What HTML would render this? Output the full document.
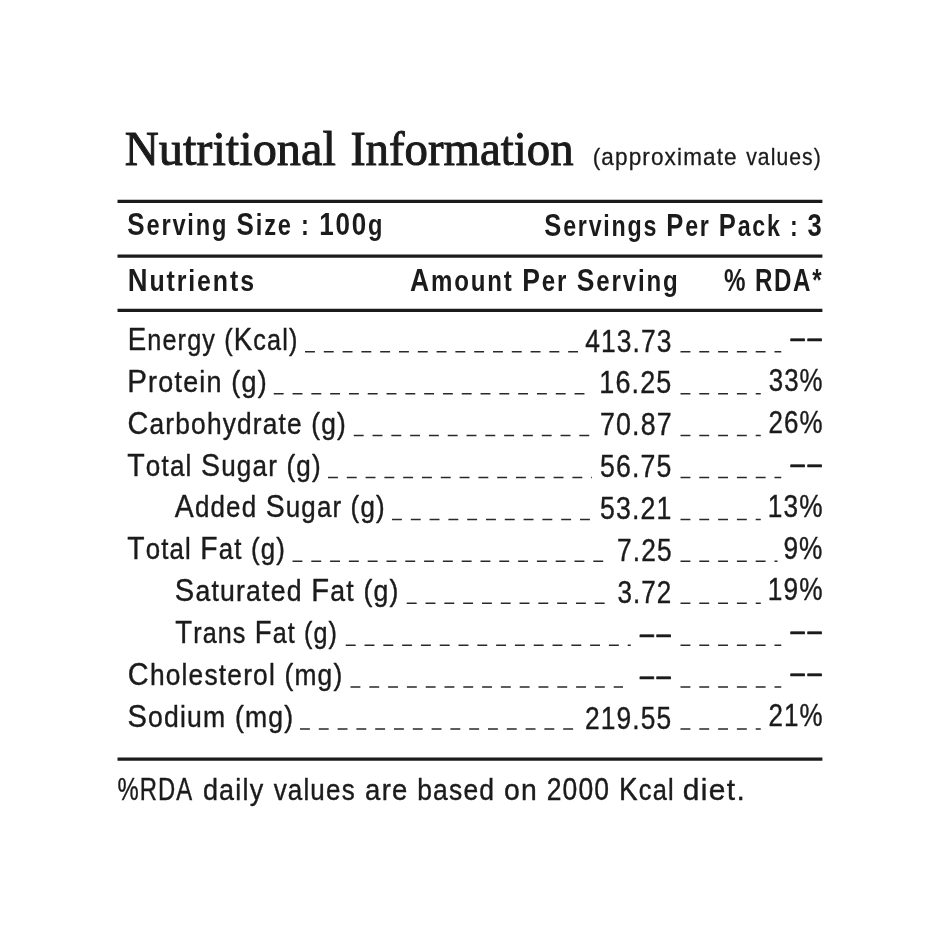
<!DOCTYPE html>
<html lang="en">
<head>
<meta charset="utf-8">
<title>Nutritional Information</title>
<style>
html,body{margin:0;padding:0;background:#fff;}
body{width:940px;height:940px;overflow:hidden;}
svg{display:block;filter:grayscale(1);}
text{fill:#1c1b1a;font-family:"Liberation Sans", sans-serif;font-kerning:normal;white-space:pre;}
text.serif{font-family:"Liberation Serif", serif;}
.rule{stroke:#1c1b1a;stroke-width:3.2;}
.dash{stroke:#2a2928;stroke-width:1.5;stroke-dasharray:9.9 8.9;}
</style>
</head>
<body>
<svg width="940" height="940" viewBox="0 0 940 940">
<rect width="940" height="940" fill="#ffffff"/>
<line class="rule" x1="117.5" x2="822.4" y1="201.3" y2="201.3"/>
<line class="rule" x1="117.5" x2="822.4" y1="256.1" y2="256.1"/>
<line class="rule" x1="117.5" x2="822.4" y1="310.45" y2="310.45"/>
<line class="rule" x1="117.5" x2="822.4" y1="759.2" y2="759.2"/>
<line class="dash" x1="305" x2="578" y1="351.8" y2="351.8"/>
<line class="dash" x1="680.5" x2="781.25" y1="351.8" y2="351.8"/>
<line class="dash" x1="273.75" x2="585" y1="393.71" y2="393.71"/>
<line class="dash" x1="680.5" x2="760.75" y1="393.71" y2="393.71"/>
<line class="dash" x1="353.75" x2="590" y1="435.62" y2="435.62"/>
<line class="dash" x1="680.5" x2="760.75" y1="435.62" y2="435.62"/>
<line class="dash" x1="328" x2="592" y1="477.53" y2="477.53"/>
<line class="dash" x1="680.5" x2="781.25" y1="477.53" y2="477.53"/>
<line class="dash" x1="392" x2="590" y1="519.44" y2="519.44"/>
<line class="dash" x1="680.5" x2="760.75" y1="519.44" y2="519.44"/>
<line class="dash" x1="292.5" x2="604.25" y1="561.35" y2="561.35"/>
<line class="dash" x1="680.5" x2="777.5" y1="561.35" y2="561.35"/>
<line class="dash" x1="406.75" x2="605" y1="603.26" y2="603.26"/>
<line class="dash" x1="680.5" x2="760.75" y1="603.26" y2="603.26"/>
<line class="dash" x1="345.75" x2="630.75" y1="645.17" y2="645.17"/>
<line class="dash" x1="680.5" x2="781.25" y1="645.17" y2="645.17"/>
<line class="dash" x1="350.5" x2="623" y1="687.08" y2="687.08"/>
<line class="dash" x1="680.5" x2="781.25" y1="687.08" y2="687.08"/>
<line class="dash" x1="300" x2="573.75" y1="728.99" y2="728.99"/>
<line class="dash" x1="680.5" x2="760.75" y1="728.99" y2="728.99"/>
<text id="title1" x="124.77" y="165.10" font-size="49.2" class="serif" style="stroke:#1c1b1a;stroke-width:1.0px;stroke-linejoin:round" textLength="211.04" lengthAdjust="spacingAndGlyphs"><tspan font-size="48.0">N</tspan>utritional</text>
<text id="title2" x="350.39" y="165.10" font-size="49.2" class="serif" style="stroke:#1c1b1a;stroke-width:1.0px;stroke-linejoin:round" textLength="223.19" lengthAdjust="spacingAndGlyphs"><tspan font-size="48.0">I</tspan>nformation</text>
<text id="ap1" x="592.73" y="165.20" font-size="24.0" style="letter-spacing:1.2px;stroke:#1c1b1a;stroke-width:0.3px;stroke-linejoin:round" textLength="145.03" lengthAdjust="spacingAndGlyphs">(approximate</text>
<text id="ap2" x="746.21" y="165.20" font-size="24.0" style="letter-spacing:1.2px;stroke:#1c1b1a;stroke-width:0.3px;stroke-linejoin:round" textLength="75.54" lengthAdjust="spacingAndGlyphs">values)</text>
<text id="ss" x="127.26" y="234.50" font-size="28.9" font-weight="700" style="letter-spacing:2.2px" textLength="256.98" lengthAdjust="spacingAndGlyphs"><tspan font-size="31.8">S</tspan>erving <tspan font-size="31.8">S</tspan>ize : <tspan font-size="31.8">100</tspan>g</text>
<text id="spp" x="544.36" y="235.50" font-size="28.9" font-weight="700" style="letter-spacing:2.2px" textLength="279.23" lengthAdjust="spacingAndGlyphs"><tspan font-size="31.8">S</tspan>ervings <tspan font-size="31.8">P</tspan>er <tspan font-size="31.8">P</tspan>ack : <tspan font-size="31.8">3</tspan></text>
<text id="hn" x="127.72" y="291.20" font-size="28.9" font-weight="700" style="letter-spacing:2.2px" textLength="128.20" lengthAdjust="spacingAndGlyphs"><tspan font-size="31.8">N</tspan>utrients</text>
<text id="ha" x="410.03" y="291.20" font-size="28.9" font-weight="700" style="letter-spacing:2.2px" textLength="269.47" lengthAdjust="spacingAndGlyphs"><tspan font-size="31.8">A</tspan>mount <tspan font-size="31.8">P</tspan>er <tspan font-size="31.8">S</tspan>erving</text>
<text id="hr" x="723.97" y="291.20" font-size="28.9" font-weight="700" style="letter-spacing:2.2px" textLength="99.34" lengthAdjust="spacingAndGlyphs"><tspan font-size="31.8">%</tspan> <tspan font-size="31.8">RDA*</tspan></text>
<text id="l0" x="127.72" y="350.00" font-size="29.0" style="letter-spacing:1.3px;stroke:#1c1b1a;stroke-width:0.4px;stroke-linejoin:round" textLength="170.79" lengthAdjust="spacingAndGlyphs"><tspan font-size="31.8">E</tspan>nergy (<tspan font-size="31.8">K</tspan>cal)</text>
<text id="v0" x="585.24" y="351.50" font-size="31.2" style="letter-spacing:1.3px;stroke:#1c1b1a;stroke-width:0.4px;stroke-linejoin:round" textLength="87.32" lengthAdjust="spacingAndGlyphs">413.73</text>
<text id="r0" x="788.36" y="348.15" font-size="29.0" style="letter-spacing:-1.0px;stroke:#1c1b1a;stroke-width:0.45px;stroke-linejoin:round" textLength="33.62" lengthAdjust="spacingAndGlyphs">--</text>
<text id="l1" x="127.22" y="391.86" font-size="29.0" style="letter-spacing:1.3px;stroke:#1c1b1a;stroke-width:0.4px;stroke-linejoin:round" textLength="140.63" lengthAdjust="spacingAndGlyphs"><tspan font-size="31.8">P</tspan>rotein (g)</text>
<text id="v1" x="599.32" y="393.49" font-size="31.2" style="letter-spacing:1.3px;stroke:#1c1b1a;stroke-width:0.4px;stroke-linejoin:round" textLength="73.10" lengthAdjust="spacingAndGlyphs">16.25</text>
<text id="r1" x="768.69" y="391.30" font-size="31.2" style="letter-spacing:1.3px;stroke:#1c1b1a;stroke-width:0.4px;stroke-linejoin:round" textLength="54.98" lengthAdjust="spacingAndGlyphs">33%</text>
<text id="l2" x="127.54" y="433.72" font-size="29.0" style="letter-spacing:1.3px;stroke:#1c1b1a;stroke-width:0.4px;stroke-linejoin:round" textLength="219.52" lengthAdjust="spacingAndGlyphs"><tspan font-size="31.8">C</tspan>arbohydrate (g)</text>
<text id="v2" x="600.11" y="435.48" font-size="31.2" style="letter-spacing:1.3px;stroke:#1c1b1a;stroke-width:0.4px;stroke-linejoin:round" textLength="72.56" lengthAdjust="spacingAndGlyphs">70.87</text>
<text id="r2" x="768.43" y="433.10" font-size="31.2" style="letter-spacing:1.3px;stroke:#1c1b1a;stroke-width:0.4px;stroke-linejoin:round" textLength="55.20" lengthAdjust="spacingAndGlyphs">26%</text>
<text id="l3" x="127.24" y="475.58" font-size="29.0" style="letter-spacing:1.3px;stroke:#1c1b1a;stroke-width:0.4px;stroke-linejoin:round" textLength="194.55" lengthAdjust="spacingAndGlyphs"><tspan font-size="31.8">T</tspan>otal <tspan font-size="31.8">S</tspan>ugar (g)</text>
<text id="v3" x="600.10" y="477.47" font-size="31.2" style="letter-spacing:1.3px;stroke:#1c1b1a;stroke-width:0.4px;stroke-linejoin:round" textLength="72.33" lengthAdjust="spacingAndGlyphs">56.75</text>
<text id="r3" x="788.36" y="473.67" font-size="29.0" style="letter-spacing:-1.0px;stroke:#1c1b1a;stroke-width:0.45px;stroke-linejoin:round" textLength="33.62" lengthAdjust="spacingAndGlyphs">--</text>
<text id="l4" x="174.86" y="517.44" font-size="29.0" style="letter-spacing:1.3px;stroke:#1c1b1a;stroke-width:0.4px;stroke-linejoin:round" textLength="210.94" lengthAdjust="spacingAndGlyphs"><tspan font-size="31.8">A</tspan>dded <tspan font-size="31.8">S</tspan>ugar (g)</text>
<text id="v4" x="600.09" y="519.46" font-size="31.2" style="letter-spacing:1.3px;stroke:#1c1b1a;stroke-width:0.4px;stroke-linejoin:round" textLength="72.37" lengthAdjust="spacingAndGlyphs">53.21</text>
<text id="r4" x="767.82" y="516.70" font-size="31.2" style="letter-spacing:1.3px;stroke:#1c1b1a;stroke-width:0.4px;stroke-linejoin:round" textLength="55.81" lengthAdjust="spacingAndGlyphs">13%</text>
<text id="l5" x="127.24" y="559.30" font-size="29.0" style="letter-spacing:1.3px;stroke:#1c1b1a;stroke-width:0.4px;stroke-linejoin:round" textLength="158.84" lengthAdjust="spacingAndGlyphs"><tspan font-size="31.8">T</tspan>otal <tspan font-size="31.8">F</tspan>at (g)</text>
<text id="v5" x="617.03" y="561.45" font-size="31.2" style="letter-spacing:1.3px;stroke:#1c1b1a;stroke-width:0.4px;stroke-linejoin:round" textLength="55.61" lengthAdjust="spacingAndGlyphs">7.25</text>
<text id="r5" x="783.41" y="558.50" font-size="31.2" style="letter-spacing:1.3px;stroke:#1c1b1a;stroke-width:0.4px;stroke-linejoin:round" textLength="40.17" lengthAdjust="spacingAndGlyphs">9%</text>
<text id="l6" x="174.72" y="601.16" font-size="29.0" style="letter-spacing:1.3px;stroke:#1c1b1a;stroke-width:0.4px;stroke-linejoin:round" textLength="224.87" lengthAdjust="spacingAndGlyphs"><tspan font-size="31.8">S</tspan>aturated <tspan font-size="31.8">F</tspan>at (g)</text>
<text id="v6" x="617.38" y="603.44" font-size="31.2" style="letter-spacing:1.3px;stroke:#1c1b1a;stroke-width:0.4px;stroke-linejoin:round" textLength="55.05" lengthAdjust="spacingAndGlyphs">3.72</text>
<text id="r6" x="767.82" y="600.30" font-size="31.2" style="letter-spacing:1.3px;stroke:#1c1b1a;stroke-width:0.4px;stroke-linejoin:round" textLength="55.81" lengthAdjust="spacingAndGlyphs">19%</text>
<text id="l7" x="175.19" y="643.02" font-size="29.0" style="letter-spacing:1.3px;stroke:#1c1b1a;stroke-width:0.4px;stroke-linejoin:round" textLength="162.87" lengthAdjust="spacingAndGlyphs"><tspan font-size="31.8">T</tspan>rans <tspan font-size="31.8">F</tspan>at (g)</text>
<text id="v7" x="637.50" y="643.98" font-size="29.0" style="letter-spacing:-1.0px;stroke:#1c1b1a;stroke-width:0.45px;stroke-linejoin:round" textLength="33.71" lengthAdjust="spacingAndGlyphs">--</text>
<text id="r7" x="788.36" y="641.03" font-size="29.0" style="letter-spacing:-1.0px;stroke:#1c1b1a;stroke-width:0.45px;stroke-linejoin:round" textLength="33.62" lengthAdjust="spacingAndGlyphs">--</text>
<text id="l8" x="127.86" y="684.88" font-size="29.0" style="letter-spacing:1.3px;stroke:#1c1b1a;stroke-width:0.4px;stroke-linejoin:round" textLength="215.48" lengthAdjust="spacingAndGlyphs"><tspan font-size="31.8">C</tspan>holesterol (mg)</text>
<text id="v8" x="637.50" y="685.84" font-size="29.0" style="letter-spacing:-1.0px;stroke:#1c1b1a;stroke-width:0.45px;stroke-linejoin:round" textLength="33.71" lengthAdjust="spacingAndGlyphs">--</text>
<text id="r8" x="788.36" y="682.87" font-size="29.0" style="letter-spacing:-1.0px;stroke:#1c1b1a;stroke-width:0.45px;stroke-linejoin:round" textLength="33.62" lengthAdjust="spacingAndGlyphs">--</text>
<text id="l9" x="127.38" y="726.74" font-size="29.0" style="letter-spacing:1.3px;stroke:#1c1b1a;stroke-width:0.4px;stroke-linejoin:round" textLength="166.87" lengthAdjust="spacingAndGlyphs"><tspan font-size="31.8">S</tspan>odium (mg)</text>
<text id="v9" x="585.05" y="729.41" font-size="31.2" style="letter-spacing:1.3px;stroke:#1c1b1a;stroke-width:0.4px;stroke-linejoin:round" textLength="87.15" lengthAdjust="spacingAndGlyphs">219.55</text>
<text id="r9" x="768.43" y="725.70" font-size="31.2" style="letter-spacing:1.3px;stroke:#1c1b1a;stroke-width:0.4px;stroke-linejoin:round" textLength="55.20" lengthAdjust="spacingAndGlyphs">21%</text>
<text id="f0" x="117.57" y="799.60" font-size="29.0" style="letter-spacing:1.3px;stroke:#1c1b1a;stroke-width:0.4px;stroke-linejoin:round" textLength="75.46" lengthAdjust="spacingAndGlyphs"><tspan font-size="31.8">%RDA</tspan></text>
<text id="f1" x="202.91" y="799.60" font-size="29.0" style="letter-spacing:1.3px;stroke:#1c1b1a;stroke-width:0.4px;stroke-linejoin:round" textLength="61.52" lengthAdjust="spacingAndGlyphs">daily</text>
<text id="f2" x="273.63" y="799.60" font-size="29.0" style="letter-spacing:1.3px;stroke:#1c1b1a;stroke-width:0.4px;stroke-linejoin:round" textLength="82.19" lengthAdjust="spacingAndGlyphs">values</text>
<text id="f3" x="365.11" y="799.60" font-size="29.0" style="letter-spacing:1.3px;stroke:#1c1b1a;stroke-width:0.4px;stroke-linejoin:round" textLength="43.44" lengthAdjust="spacingAndGlyphs">are</text>
<text id="f4" x="417.22" y="799.60" font-size="29.0" style="letter-spacing:1.3px;stroke:#1c1b1a;stroke-width:0.4px;stroke-linejoin:round" textLength="77.96" lengthAdjust="spacingAndGlyphs">based</text>
<text id="f5" x="504.01" y="799.60" font-size="29.0" style="letter-spacing:1.3px;stroke:#1c1b1a;stroke-width:0.4px;stroke-linejoin:round" textLength="34.04" lengthAdjust="spacingAndGlyphs">on</text>
<text id="f6" x="546.77" y="799.60" font-size="29.0" style="letter-spacing:1.3px;stroke:#1c1b1a;stroke-width:0.4px;stroke-linejoin:round" textLength="63.25" lengthAdjust="spacingAndGlyphs"><tspan font-size="31.8">2000</tspan></text>
<text id="f7" x="619.11" y="799.60" font-size="29.0" style="letter-spacing:1.3px;stroke:#1c1b1a;stroke-width:0.4px;stroke-linejoin:round" textLength="55.69" lengthAdjust="spacingAndGlyphs"><tspan font-size="31.8">K</tspan>cal</text>
<text id="f8" x="682.82" y="799.60" font-size="29.0" style="letter-spacing:1.3px;stroke:#1c1b1a;stroke-width:0.4px;stroke-linejoin:round" textLength="63.24" lengthAdjust="spacingAndGlyphs">diet.</text>
</svg>
</body>
</html>
